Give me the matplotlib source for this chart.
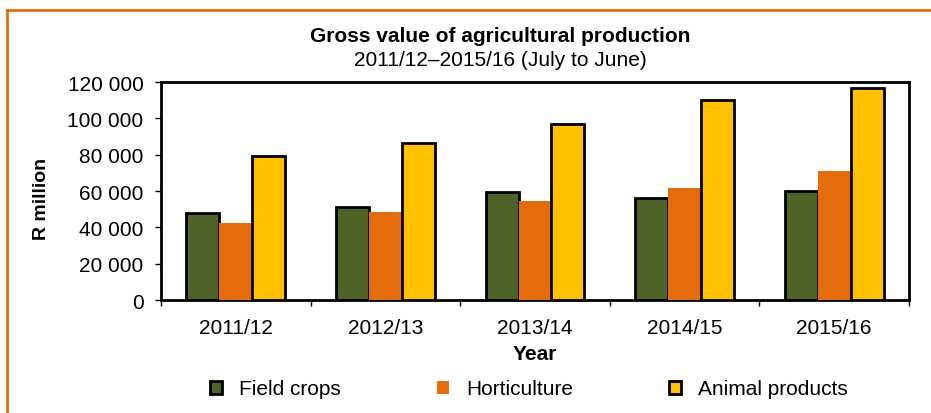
import numpy as np
import matplotlib
matplotlib.use("Agg")
import matplotlib.pyplot as plt
from matplotlib.lines import Line2D
from matplotlib.ticker import FuncFormatter, FixedLocator

plt.rcParams["font.family"] = ["Liberation Sans", "DejaVu Sans"]

years = ["2011/12", "2012/13", "2013/14", "2014/15", "2015/16"]
field_crops = [47700, 51000, 59600, 56000, 60200]
horticulture = [42400, 48300, 54300, 61500, 71000]
animal_products = [79100, 86400, 96900, 109900, 116700]

series = [
    ("Field crops", field_crops, "#4F6228", "black"),
    ("Horticulture", horticulture, "#E46C0A", "none"),
    ("Animal products", animal_products, "#FFC000", "black"),
]

fig = plt.figure(figsize=(9.31, 4.14), dpi=100)
ax = fig.add_axes([0.1729, 0.2729, 0.8035, 0.5266])

x = np.arange(len(years))
w = 0.22
handles = []
for i, (name, vals, col, ec) in enumerate(series):
    b = ax.bar(x + (i - 1) * w, vals, w, color=col, edgecolor=ec,
               linewidth=2 if ec != "none" else 0, label=name, zorder=3)
    handles.append(b)

ax.set_xlim(-0.5, len(years) - 0.5)
ax.set_ylim(0, 120000)
ax.set_yticks(np.arange(0, 120001, 20000))
ax.yaxis.set_major_formatter(FuncFormatter(lambda v, p: f"{int(v):,}".replace(",", " ")))
ax.set_xticks(x)
ax.set_xticklabels(years)
ax.tick_params(axis="x", length=0, labelsize=15, pad=13)
ax.xaxis.set_minor_locator(FixedLocator(np.arange(-0.5, len(years), 1)))
ax.tick_params(axis="x", which="minor", length=4.5, width=1, direction="out")
ax.tick_params(axis="y", length=4.5, width=1, labelsize=15, pad=8)
for s in ax.spines.values():
    s.set_linewidth(2)
    s.set_color("black")

ax.set_ylabel("R million", fontsize=14, fontweight="bold")
ax.yaxis.set_label_coords(-0.149, 0.468)
ax.set_xlabel("Year", fontsize=15, fontweight="bold", labelpad=5)

fig.text(0.537, 0.913, "Gross value of agricultural production", ha="center",
         va="center", fontsize=15, fontweight="bold")
fig.text(0.537, 0.855, "2011/12\u20132015/16 (July to June)", ha="center",
         va="center", fontsize=15)

leg = fig.legend(handles=handles, loc="center", bbox_to_anchor=(0.568, 0.058),
                 ncol=3, frameon=False, fontsize=15, handlelength=0.6,
                 handleheight=0.6, handletextpad=0.8, columnspacing=4.6)

# orange frame (top and left edges)
fig.add_artist(Line2D([0.0075, 0.0075], [0.0, 0.973], transform=fig.transFigure,
                      color="#E46C0A", linewidth=2))
fig.add_artist(Line2D([0.0075, 1.0], [0.973, 0.973], transform=fig.transFigure,
                      color="#E46C0A", linewidth=2))

fig.savefig("out.png", dpi=100)
